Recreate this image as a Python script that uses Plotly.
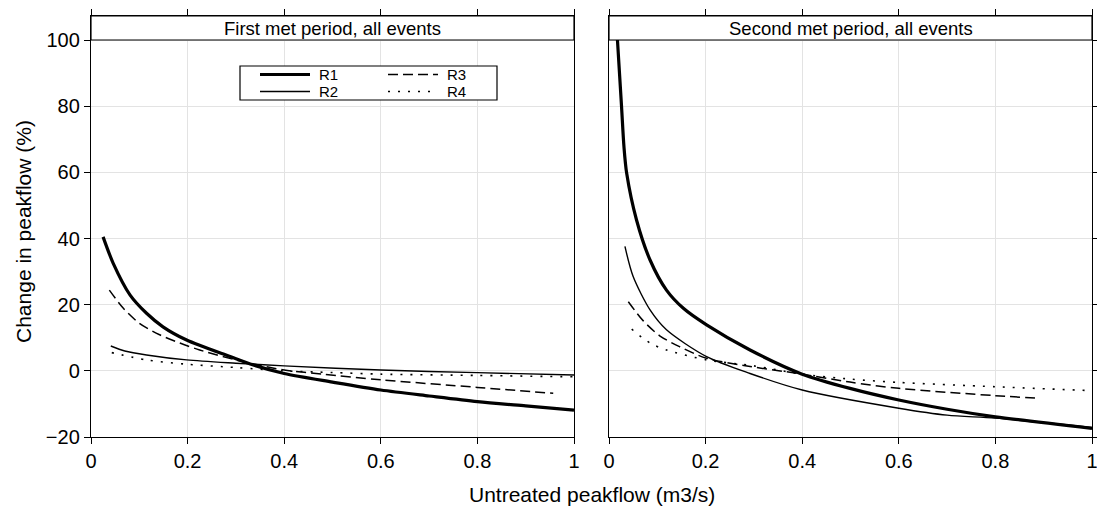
import plotly.graph_objects as go

# ---- data: first met period (left panel) ----
p1_r1_x = [0.025, 0.046, 0.081, 0.115, 0.149, 0.198, 0.288, 0.336, 0.4, 0.5, 0.6, 0.7, 0.8, 0.9, 1.0]
p1_r1_y = [40.5, 32.5, 22.9, 17.4, 13.3, 9.3, 4.3, 1.75, -0.8, -3.4, -5.8, -7.6, -9.3, -10.6, -11.85]
p1_r2_x = [0.041, 0.07, 0.115, 0.198, 0.3, 0.4, 0.6, 0.8, 1.0]
p1_r2_y = [7.5, 6.0, 4.8, 3.3, 2.3, 1.5, 0.25, -0.55, -1.25]
p1_r3_x = [0.038, 0.067, 0.1, 0.142, 0.184, 0.225, 0.3, 0.4, 0.48, 0.6, 0.8, 0.957]
p1_r3_y = [24.4, 18.9, 14.4, 10.9, 8.4, 6.3, 3.3, 0.25, -1.0, -2.7, -5.0, -6.8]
p1_r4_x = [0.043, 0.115, 0.198, 0.3, 0.4, 0.5, 0.6, 0.8, 1.0]
p1_r4_y = [5.5, 3.3, 2.0, 1.0, 0.0, -0.5, -1.0, -1.4, -1.8]

# ---- data: second met period (right panel) ----
p2_r1_x = [0.0175, 0.026, 0.031, 0.0366, 0.057, 0.085, 0.119, 0.154, 0.202, 0.292, 0.4, 0.499, 0.6, 0.7, 0.8, 1.0]
p2_r1_y = [100, 79.8, 67.7, 59.7, 45.6, 33.5, 24.4, 18.9, 13.9, 6.3, -1.0, -5.3, -8.8, -11.6, -13.9, -17.4]
p2_r2_x = [0.033, 0.050, 0.085, 0.119, 0.202, 0.292, 0.4, 0.6, 0.7, 0.8, 1.0]
p2_r2_y = [37.6, 28.5, 18.4, 12.4, 4.3, -0.8, -5.8, -11.3, -13.4, -14.3, -17.1]
p2_r3_x = [0.040, 0.071, 0.105, 0.146, 0.202, 0.292, 0.368, 0.4, 0.499, 0.6, 0.8, 0.892]
p2_r3_y = [20.9, 15.1, 10.6, 7.3, 3.8, 1.3, -0.3, -1.0, -3.4, -5.3, -7.5, -8.3]
p2_r4_x = [0.047, 0.085, 0.119, 0.202, 0.3, 0.4, 0.5, 0.6, 0.8, 1.0]
p2_r4_y = [12.6, 8.4, 6.3, 3.3, 1.5, -1.0, -2.5, -3.5, -4.8, -6.0]

series_names = ["R1", "R2", "R3", "R4"]
panel_titles = ["First met period, all events", "Second met period, all events"]
x_ticks = [0, 0.2, 0.4, 0.6, 0.8, 1]
x_ticktext = ["0", "0.2", "0.4", "0.6", "0.8", "1"]
y_ticks = [-20, 0, 20, 40, 60, 80, 100]

styles = {
    "R1": dict(color="black", width=3.2, dash="solid"),
    "R2": dict(color="black", width=1.4, dash="solid"),
    "R3": dict(color="black", width=1.5, dash="10px,5px"),
    "R4": dict(color="black", width=1.6, dash="2px,8px"),
}

panels = [
    {"R1": (p1_r1_x, p1_r1_y), "R2": (p1_r2_x, p1_r2_y), "R3": (p1_r3_x, p1_r3_y), "R4": (p1_r4_x, p1_r4_y)},
    {"R1": (p2_r1_x, p2_r1_y), "R2": (p2_r2_x, p2_r2_y), "R3": (p2_r3_x, p2_r3_y), "R4": (p2_r4_x, p2_r4_y)},
]

FONT = "Liberation Sans, Arial, Helvetica, sans-serif"
fig = go.Figure()
for i, pdata in enumerate(panels):
    xa = "x" if i == 0 else "x2"
    ya = "y" if i == 0 else "y2"
    for name in series_names:
        xs, ys = pdata[name]
        fig.add_trace(go.Scatter(
            x=xs, y=ys, mode="lines", name=name, xaxis=xa, yaxis=ya,
            line=dict(shape="spline", smoothing=0.8, **styles[name]),
            showlegend=False, hoverinfo="skip"))

YTOP = 107.26
W, H = 1097, 507
ML, MR, MT, MB = 91, 5, 16, 70
pw = W - ML - MR
ph = H - MT - MB

def px_x(p):  # page pixel -> paper x
    return (p - ML) / pw

def px_y(p):  # page pixel -> paper y
    return (H - MB - p) / ph

axis_common = dict(
    range=[0, 1], tickvals=x_ticks, ticktext=x_ticktext, showgrid=True,
    gridcolor="#e3e3e3", gridwidth=1, zeroline=False, showline=True,
    linecolor="black", linewidth=1.2, mirror="ticks", ticks="outside",
    ticklen=6, tickcolor="black", tickwidth=1, ticklabeloverflow="allow",
    tickfont=dict(family=FONT, size=20, color="black"))
yaxis_common = dict(
    range=[-20, YTOP], tickvals=y_ticks, showgrid=True, gridcolor="#e3e3e3",
    gridwidth=1, zeroline=False, showline=True, linecolor="black",
    linewidth=1.2, mirror=True, ticks="outside", ticklen=6,
    tickcolor="black", tickwidth=1,
    tickfont=dict(family=FONT, size=20, color="black"))

fig.update_layout(
    width=W, height=H,
    margin=dict(l=ML, r=MR, t=MT, b=MB, autoexpand=False),
    paper_bgcolor="white", plot_bgcolor="white",
    font=dict(family=FONT, size=16, color="black"),
    xaxis=dict(domain=[0, 483 / pw], anchor="y", **axis_common),
    xaxis2=dict(domain=[518 / pw, 1], anchor="y2", **axis_common),
    yaxis=dict(domain=[0, 1], anchor="x", side="left", **yaxis_common),
    yaxis2=dict(domain=[0, 1], anchor="x2", side="right", showticklabels=False, **yaxis_common),
    showlegend=False,
)

shapes = []
annotations = []
for i, title in enumerate(panel_titles):
    xr = "x" if i == 0 else "x2"
    yr = "y" if i == 0 else "y2"
    shapes.append(dict(type="rect", xref=xr, yref=yr, x0=0, x1=1, y0=100, y1=YTOP,
                       fillcolor="white", line=dict(color="black", width=1.2), layer="above"))
    annotations.append(dict(xref=xr, yref=yr, x=0.5, y=(100 + YTOP) / 2, text=title,
                            showarrow=False, font=dict(family=FONT, size=18.5, color="black"),
                            xanchor="center", yanchor="middle"))

# legend frame and entries (drawn manually to match the compact two-column key)
shapes.append(dict(type="rect", xref="paper", yref="paper",
                   x0=px_x(240), x1=px_x(497), y0=px_y(100), y1=px_y(66),
                   line=dict(color="black", width=1.2), fillcolor="white", layer="above"))
legend_pos = {"R1": (260, 74.5), "R2": (260, 91.5), "R3": (388, 74.5), "R4": (388, 91.5)}
for name in series_names:
    lx, ly = legend_pos[name]
    st = styles[name]
    shapes.append(dict(type="line", xref="paper", yref="paper",
                       x0=px_x(lx), x1=px_x(lx + 50), y0=px_y(ly), y1=px_y(ly),
                       line=dict(color=st["color"], width=st["width"], dash=st["dash"]),
                       layer="above"))
    annotations.append(dict(xref="paper", yref="paper", x=px_x(lx + 58), y=px_y(ly),
                            text=name, showarrow=False, xanchor="left", yanchor="middle",
                            borderpad=0,
                            font=dict(family=FONT, size=15, color="black")))

annotations.append(dict(xref="paper", yref="paper", x=px_x(592), y=px_y(494),
                        text="Untreated peakflow (m3/s)", showarrow=False,
                        font=dict(family=FONT, size=21, color="black"),
                        xanchor="center", yanchor="middle"))
annotations.append(dict(xref="paper", yref="paper", x=px_x(24), y=px_y(232),
                        text="Change in peakflow (%)", showarrow=False, textangle=-90,
                        font=dict(family=FONT, size=21, color="black"),
                        xanchor="center", yanchor="middle"))

fig.update_layout(shapes=shapes, annotations=annotations)
fig.write_html(
    "out.html",
    config={"displayModeBar": False, "staticPlot": True},
    post_script=("document.documentElement.style.overflow='hidden';"
                 "document.body.style.margin='0';document.body.style.overflow='hidden';"),
)
